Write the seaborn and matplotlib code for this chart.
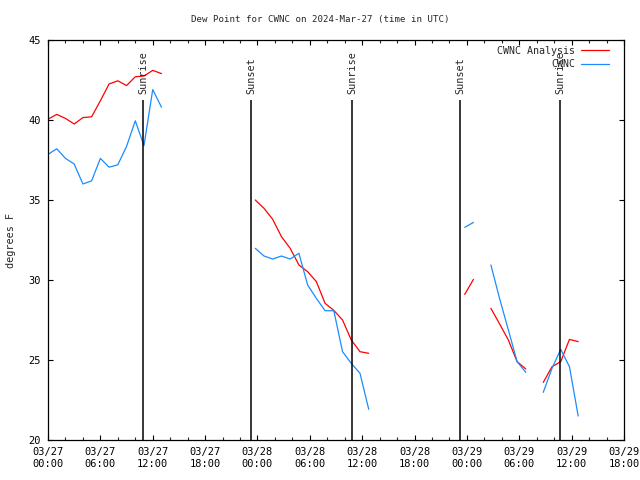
import numpy as np
import pandas as pd
import seaborn as sns
import matplotlib
matplotlib.use('Agg')
import matplotlib.pyplot as plt

# hours since 03/27 00:00 UTC, one list per unbroken piece of the record
seg_hours = [
    [0, 1, 2, 3, 4, 5, 6, 7, 8, 9, 10, 11, 12, 13],
    [23.75, 24.75, 25.75, 26.75, 27.75, 28.75, 29.75, 30.75, 31.75, 32.75, 33.75, 34.75, 35.75, 36.75],
    [47.75, 48.75],
    [50.75, 51.75, 52.75, 53.75, 54.75],
    [56.75, 57.75, 58.75, 59.75, 60.75],
]
analysis = [
    [40.05, 40.35, 40.1, 39.75, 40.15, 40.2, 41.2, 42.25, 42.45, 42.15, 42.7, 42.75, 43.1, 42.9],
    [35.0, 34.48, 33.79, 32.71, 31.98, 30.94, 30.52, 29.9, 28.54, 28.1, 27.5, 26.25, 25.52, 25.42],
    [29.1, 30.04],
    [28.23, 27.25, 26.25, 24.9, 24.44],
    [23.6, 24.58, 24.9, 26.29, 26.15],
]
observed = [
    [37.85, 38.2, 37.6, 37.25, 36.0, 36.2, 37.6, 37.05, 37.2, 38.35, 39.95, 38.4, 41.9, 40.8],
    [31.98, 31.5, 31.31, 31.5, 31.31, 31.67, 29.69, 28.85, 28.08, 28.08, 25.52, 24.79, 24.17, 21.92],
    [33.29, 33.6],
    [30.94, 28.83, 26.88, 24.9, 24.23],
    [22.98, 24.48, 25.67, 24.58, 21.5],
]

event_hours = [10.9, 23.26, 34.83, 47.21, 58.67]
event_names = ['Sunrise', 'Sunset', 'Sunrise', 'Sunset', 'Sunrise']

tick_hours = [0, 6, 12, 18, 24, 30, 36, 42, 48, 54, 60, 66]
tick_labels = ['03/27\n00:00', '03/27\n06:00', '03/27\n12:00', '03/27\n18:00',
               '03/28\n00:00', '03/28\n06:00', '03/28\n12:00', '03/28\n18:00',
               '03/29\n00:00', '03/29\n06:00', '03/29\n12:00', '03/29\n18:00']

rows = []
for i, hrs in enumerate(seg_hours):
    for h, a, o in zip(hrs, analysis[i], observed[i]):
        rows.append({'hour': h, 'dew': a, 'series': 'CWNC Analysis', 'seg': i})
        rows.append({'hour': h, 'dew': o, 'series': 'CWNC', 'seg': i})
df = pd.DataFrame(rows)

sns.set_style('white')
plt.rcParams['font.family'] = ['DejaVu Sans Mono']
plt.rcParams['font.size'] = 7.5

fig = plt.figure(figsize=(6.4, 4.8), dpi=100)
ax = fig.add_axes([0.075, 0.0833, 0.9, 0.8334])

sns.lineplot(data=df, x='hour', y='dew', hue='series', units='seg', estimator=None,
             palette={'CWNC Analysis': '#ff0000', 'CWNC': '#1a8cff'},
             linewidth=0.9, ax=ax)

for h, name in zip(event_hours, event_names):
    ax.vlines(h, 20, 41.25, color='black', linewidth=1.1)
    ax.text(h, 41.6, name, rotation=90, ha='center', va='bottom', fontsize=7.3)

ax.set_xlim(0, 66)
ax.set_ylim(20, 45)
ax.set_xticks(tick_hours)
ax.set_xticklabels(tick_labels)
ax.set_xticks(np.arange(0, 67, 2), minor=True)
ax.set_yticks([20, 25, 30, 35, 40, 45])
ax.tick_params(which='major', direction='in', length=3.5, width=0.8,
               top=True, right=True, bottom=True, left=True, pad=5, colors='black')
ax.tick_params(which='minor', direction='in', length=2, width=0.8, top=True, bottom=True)
for s in ax.spines.values():
    s.set_color('black')
    s.set_linewidth(0.9)

ax.set_xlabel('')
ax.set_ylabel('degrees F', fontsize=7.3, labelpad=9)

handles, labels = ax.get_legend_handles_labels()
ax.legend(handles, labels, loc='upper right', bbox_to_anchor=(0.99, 1.008), frameon=False,
          markerfirst=False, handlelength=2.8, handletextpad=0.6, labelspacing=0.35,
          fontsize=7.2)

fig.suptitle('Dew Point for CWNC on 2024-Mar-27 (time in UTC)', x=0.5, y=0.968, fontsize=6.6)

fig.savefig('out.png', dpi=100)
